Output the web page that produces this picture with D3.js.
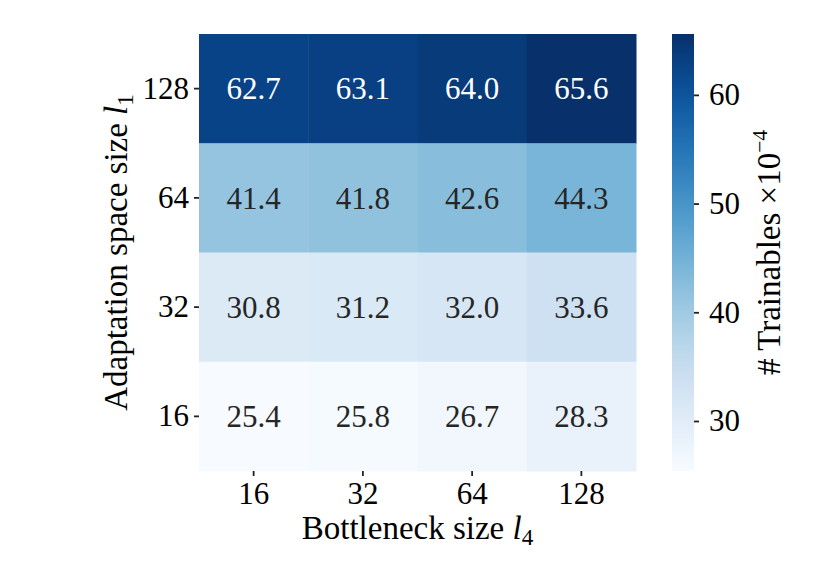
<!DOCTYPE html>
<html>
<head>
<meta charset="utf-8">
<script src="https://cdn.jsdelivr.net/npm/d3@7"></script>
<style>
  body { margin: 0; background: #fff; }
  text { font-family: "Liberation Serif", "Times New Roman", serif; }
</style>
</head>
<body>
<svg id="chart" width="830" height="581"></svg>
<script>
// bottleneck sizes (columns) and adaptation space sizes (rows, top to bottom)
var bottleneck = ["16", "32", "64", "128"];
var adaptation = ["128", "64", "32", "16"];
var values = [
  [62.7, 63.1, 64.0, 65.6],
  [41.4, 41.8, 42.6, 44.3],
  [30.8, 31.2, 32.0, 33.6],
  [25.4, 25.8, 26.7, 28.3]
];
var cbarTicks = [30, 40, 50, 60];

var svg = d3.select("#chart");
var mLeft = 199, mRight = 636, mTop = 34, mBottom = 471;
var fs = 31, lfs = 33;

var x = d3.scaleBand().domain(bottleneck).range([mLeft, mRight]);
var y = d3.scaleBand().domain(adaptation).range([mTop, mBottom]);
var allVals = d3.merge(values);
var vmin = d3.min(allVals), vmax = d3.max(allVals);
var color = d3.scaleSequential(d3.interpolateBlues).domain([vmin, vmax]);

// cells
var cells = [];
values.forEach(function(row, i) {
  row.forEach(function(v, j) {
    cells.push({ r: adaptation[i], c: bottleneck[j], v: v });
  });
});

svg.append("g").selectAll("rect").data(cells).enter().append("rect")
  .attr("x", function(d) { return x(d.c); })
  .attr("y", function(d) { return y(d.r); })
  .attr("width", x.bandwidth() + 0.5)
  .attr("height", y.bandwidth() + 0.5)
  .style("fill", function(d) { return color(d.v); });

function lum(c) {
  var rgb = d3.rgb(c);
  var f = function(u) { u = u / 255; return u <= 0.03928 ? u / 12.92 : Math.pow((u + 0.055) / 1.055, 2.4); };
  return 0.2126 * f(rgb.r) + 0.7152 * f(rgb.g) + 0.0722 * f(rgb.b);
}

svg.append("g").selectAll("text").data(cells).enter().append("text")
  .attr("x", function(d) { return x(d.c) + x.bandwidth() / 2; })
  .attr("y", function(d) { return y(d.r) + y.bandwidth() / 2; })
  .attr("text-anchor", "middle")
  .attr("dy", "0.35em")
  .style("font-size", fs + "px")
  .style("fill", function(d) { return lum(color(d.v)) > 0.408 ? "#262626" : "#ffffff"; })
  .text(function(d) { return d.v.toFixed(1); });

// axes
var xAxis = svg.append("g")
  .attr("transform", "translate(0," + mBottom + ")")
  .call(d3.axisBottom(x).tickSize(5).tickPadding(6));
var yAxis = svg.append("g")
  .attr("transform", "translate(" + mLeft + ",0)")
  .call(d3.axisLeft(y).tickSize(5).tickPadding(5));
[xAxis, yAxis].forEach(function(g) {
  g.select(".domain").remove();
  g.selectAll("line").attr("stroke", "#222").attr("stroke-width", 1.8);
  g.selectAll("text").attr("font-family", null).style("font-size", fs + "px").style("fill", "#000");
});

// x label
var xl = svg.append("text")
  .attr("x", (mLeft + mRight) / 2)
  .attr("y", 539)
  .attr("text-anchor", "middle")
  .style("font-size", lfs + "px");
xl.append("tspan").text("Bottleneck size ");
xl.append("tspan").style("font-style", "italic").text("l");
xl.append("tspan").attr("dy", 6).style("font-size", (lfs * 0.7) + "px").text("4");

// y label
var yl = svg.append("text")
  .attr("transform", "translate(127," + ((mTop + mBottom) / 2) + ") rotate(-90)")
  .attr("text-anchor", "middle")
  .style("font-size", lfs + "px");
yl.append("tspan").text("Adaptation space size ");
yl.append("tspan").style("font-style", "italic").text("l");
yl.append("tspan").attr("dy", 6).style("font-size", (lfs * 0.7) + "px").text("1");

// colorbar
var cbLeft = 672, cbWidth = 22;
var cy = d3.scaleLinear().domain([vmin, vmax]).range([mBottom, mTop]);
var defs = svg.append("defs");
var grad = defs.append("linearGradient").attr("id", "cbgrad")
  .attr("x1", "0").attr("y1", "1").attr("x2", "0").attr("y2", "0");
d3.range(0, 1.0001, 0.05).forEach(function(t) {
  grad.append("stop").attr("offset", t).attr("stop-color", d3.interpolateBlues(t));
});
svg.append("rect")
  .attr("x", cbLeft).attr("y", mTop)
  .attr("width", cbWidth).attr("height", mBottom - mTop)
  .style("fill", "url(#cbgrad)");

var cAxis = svg.append("g")
  .attr("transform", "translate(" + (cbLeft + cbWidth) + ",0)")
  .call(d3.axisRight(cy).tickValues(cbarTicks).tickSize(5).tickPadding(10));
cAxis.select(".domain").remove();
cAxis.selectAll("line").attr("stroke", "#222").attr("stroke-width", 1.8);
cAxis.selectAll("text").attr("font-family", null).style("font-size", fs + "px").style("fill", "#000");

var cl = svg.append("text")
  .attr("transform", "translate(780," + ((mTop + mBottom) / 2) + ") rotate(-90)")
  .attr("text-anchor", "middle")
  .style("font-size", lfs + "px");
cl.append("tspan").text("# Trainables \u00d710");
cl.append("tspan").attr("dy", -13).style("font-size", (lfs * 0.65) + "px").text("\u22124");
</script>
</body>
</html>
